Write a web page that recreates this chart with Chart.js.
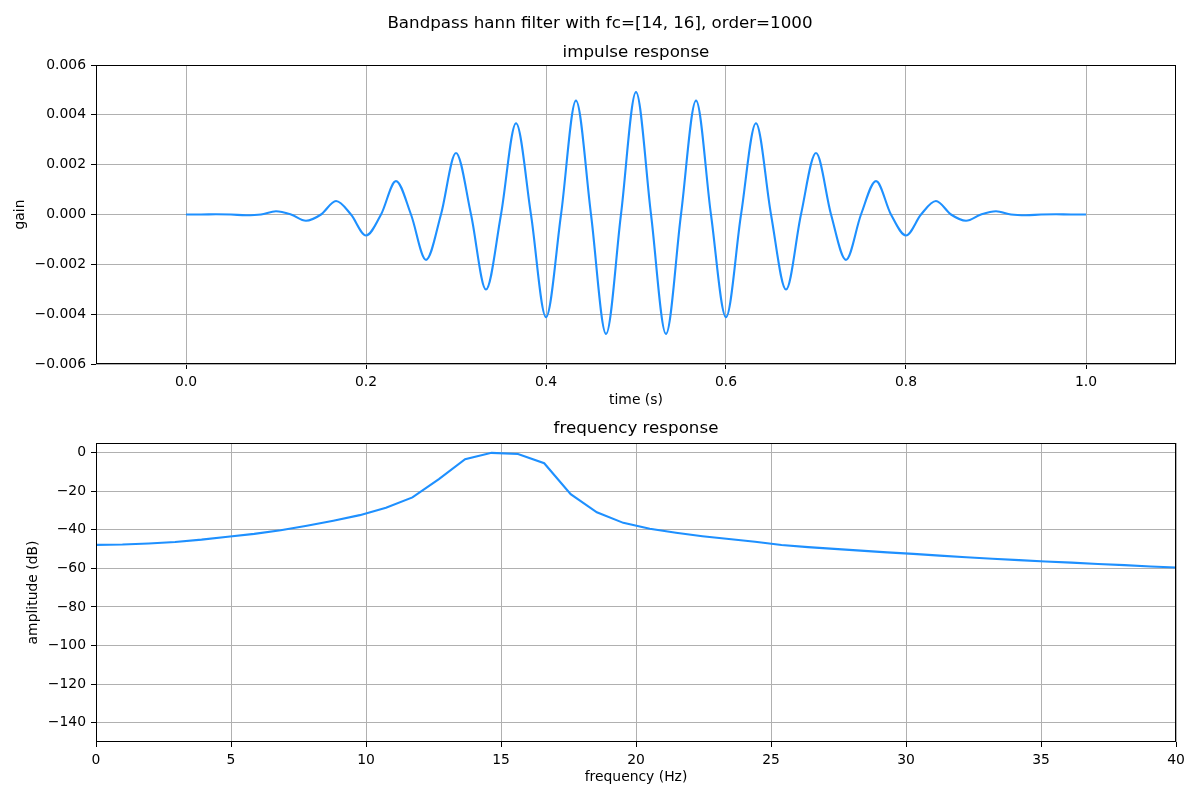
<!DOCTYPE html>
<html>
<head>
<meta charset="utf-8">
<title>Bandpass hann filter</title>
<script src="https://cdn.jsdelivr.net/npm/chart.js@4.4.0/dist/chart.umd.min.js"></script>
<style>
  html, body { margin: 0; padding: 0; background: #fff; }
  #suptitle {
    position: absolute; left: 0; top: 0; width: 1200px; height: 44px;
    line-height: 44px; text-align: center;
    font-family: "DejaVu Sans"; font-size: 16.7px; color: #000;
  }
  #top { position: absolute; left: 0; top: 0; width: 1200px; height: 420px; }
  #bottom { position: absolute; left: 0; top: 420px; width: 1200px; height: 380px; }
</style>
</head>
<body>
<div id="top"><canvas id="impulse"></canvas></div>
<div id="bottom"><canvas id="freq"></canvas></div>
<div id="suptitle">Bandpass hann filter with fc=[14, 16], order=1000</div>
<script>
var timeValues = [
  0, 0.0167, 0.0333, 0.05, 0.0667, 0.0833, 0.1, 0.1167, 0.1333, 0.15,
  0.1667, 0.1833, 0.2, 0.2167, 0.2333, 0.25, 0.2667, 0.2833, 0.3, 0.3167,
  0.3333, 0.35, 0.3667, 0.3833, 0.4, 0.4167, 0.4333, 0.45, 0.4667, 0.4833,
  0.5, 0.5167, 0.5333, 0.55, 0.5667, 0.5833, 0.6, 0.6167, 0.6333, 0.65,
  0.6667, 0.6833, 0.7, 0.7167, 0.7333, 0.75, 0.7667, 0.7833, 0.8, 0.8167,
  0.8333, 0.85, 0.8667, 0.8833, 0.9, 0.9167, 0.9333, 0.95, 0.9667, 0.9833, 1.0
]
var gainValues = [
  0, 0, 0.00001, 0, -0.00003, 0, 0.00013, 0, -0.00025, 0,
  0.00054, 0, -0.00084, 0, 0.00134, 0, -0.00182, 0, 0.00247, 0,
  -0.00301, 0, 0.00366, 0, -0.00412, 0, 0.00457, 0, -0.00479, 0,
  0.00491, 0, -0.00479, 0, 0.00457, 0, -0.00412, 0, 0.00366, 0,
  -0.00301, 0, 0.00247, 0, -0.00182, 0, 0.00134, 0, -0.00084, 0,
  0.00054, 0, -0.00025, 0, 0.00013, 0, -0.00003, 0, 0.00001, 0, 0
]
var timeTicks = [0, 0.2, 0.4, 0.6, 0.8, 1.0]
var gainTicks = [-0.006, -0.004, -0.002, 0, 0.002, 0.004, 0.006]

// frequency response
var freqValues = [
  0, 0.98, 1.95, 2.93, 3.91, 4.88, 5.86, 6.84, 7.81, 8.79,
  9.77, 10.74, 11.72, 12.70, 13.67, 14.65, 15.63, 16.60, 17.58, 18.55,
  19.53, 20.51, 21.48, 22.46, 23.44, 24.41, 25.39, 26.37, 27.34, 28.32,
  29.30, 30.27, 31.25, 32.23, 33.20, 34.18, 35.16, 36.13, 37.11, 38.09,
  39.06, 40.04
]
var ampValues = [
  -47.8, -47.6, -47.1, -46.3, -45.1, -43.6, -42.1, -40.2, -37.9, -35.3,
  -32.4, -28.6, -23.2, -13.7, -3.4, -0.1, -0.7, -5.5, -21.5, -30.9,
  -36.4, -39.5, -41.5, -43.3, -44.8, -46.2, -47.9, -49.0, -49.9, -50.8,
  -51.7, -52.5, -53.4, -54.2, -55.0, -55.7, -56.4, -57.0, -57.7, -58.3,
  -59.0, -59.6
]
var freqTicks = [0, 5, 10, 15, 20, 25, 30, 35, 40]
var ampTicks = [-140, -120, -100, -80, -60, -40, -20, 0]

var lineColour = "#1e90ff"
var gridColour = "#b0b0b0"

Chart.defaults.font.family = "DejaVu Sans"
Chart.defaults.font.size = 13.9
Chart.defaults.color = "#000"

function minus(text) {
  return text.replace("-", "\u2212")
}

function points(xs, ys) {
  return xs.map(function(x, i) { return { x: x, y: ys[i] } })
}

function fixedTicks(list) {
  return function(axis) {
    axis.ticks = list.map(function(v) { return { value: v } })
  }
}

// matplotlib style box round the plot area
var frame = {
  id: "frame",
  afterDraw: function(chart) {
    var a = chart.chartArea
    var ctx = chart.ctx
    ctx.save()
    ctx.strokeStyle = "#000"
    ctx.lineWidth = 1
    var l = Math.round(a.left) + 0.5, t = Math.round(a.top) + 0.5
    var r = Math.round(a.right) - 0.5, b = Math.round(a.bottom) - 0.5
    ctx.strokeRect(l, t, r - l, b - t)
    ctx.restore()
  }
}

function axisGrid() {
  return {
    color: gridColour,
    lineWidth: 1,
    tickColor: "#000",
    tickLength: 5,
    tickWidth: 1
  }
}

function plotTitle(text, top, bottom) {
  return {
    display: true,
    text: text,
    fullSize: false,
    font: { size: 16.7, weight: "normal", lineHeight: 1 },
    color: "#000",
    padding: { top: top, bottom: bottom }
  }
}

new Chart(document.getElementById("impulse"), {
  type: "line",
  data: {
    datasets: [{
      data: points(timeValues, gainValues),
      borderColor: lineColour,
      borderWidth: 2.1,
      pointRadius: 0,
      cubicInterpolationMode: "monotone"
    }]
  },
  options: {
    responsive: true,
    maintainAspectRatio: false,
    animation: false,
    layout: { padding: { left: 0, right: 24, top: 0, bottom: 0 } },
    scales: {
      x: {
        type: "linear",
        min: -0.1,
        max: 1.1,
        afterBuildTicks: fixedTicks(timeTicks),
        afterFit: function(s) { s.height = 56 },
        grid: axisGrid(),
        border: { display: false },
        ticks: {
          padding: 5,
          maxRotation: 0,
          callback: function(value) { return minus(value.toFixed(1)) }
        },
        title: {
          display: true,
          text: "time (s)",
          font: { size: 13.9, lineHeight: 1 },
          padding: { top: 0, bottom: 12.5 }
        }
      },
      y: {
        min: -0.006,
        max: 0.006,
        afterBuildTicks: fixedTicks(gainTicks),
        afterFit: function(s) { s.width = 96 },
        grid: axisGrid(),
        border: { display: false },
        ticks: {
          padding: 5,
          callback: function(value) {
            if (Math.abs(value) < 1e-9) return "0.000"
            return minus(value.toFixed(3))
          }
        },
        title: {
          display: true,
          text: "gain",
          font: { size: 13.9, lineHeight: 1 },
          padding: { top: 13.9, bottom: 0 }
        }
      }
    },
    plugins: {
      legend: { display: false },
      tooltip: { enabled: false },
      title: plotTitle("impulse response", 44.65, 3.65)
    }
  },
  plugins: [frame]
})

new Chart(document.getElementById("freq"), {
  type: "line",
  data: {
    datasets: [{
      data: points(freqValues, ampValues),
      borderColor: lineColour,
      borderWidth: 2.1,
      pointRadius: 0,
      tension: 0
    }]
  },
  options: {
    responsive: true,
    maintainAspectRatio: false,
    animation: false,
    layout: { padding: { left: 0, right: 24, top: 0, bottom: 0 } },
    scales: {
      x: {
        type: "linear",
        min: 0,
        max: 40,
        afterBuildTicks: fixedTicks(freqTicks),
        afterFit: function(s) { s.height = 58 },
        grid: axisGrid(),
        border: { display: false },
        ticks: {
          padding: 5,
          maxRotation: 0,
          callback: function(value) { return String(value) }
        },
        title: {
          display: true,
          text: "frequency (Hz)",
          font: { size: 13.9, lineHeight: 1 },
          padding: { top: 0, bottom: 16 }
        }
      },
      y: {
        min: -150,
        max: 5,
        afterBuildTicks: fixedTicks(ampTicks),
        afterFit: function(s) { s.width = 96 },
        grid: axisGrid(),
        border: { display: false },
        ticks: {
          padding: 5,
          callback: function(value) { return minus(String(value)) }
        },
        title: {
          display: true,
          text: "amplitude (dB)",
          font: { size: 13.9, lineHeight: 1 },
          padding: { top: 26.5, bottom: 0 }
        }
      }
    },
    plugins: {
      legend: { display: false },
      tooltip: { enabled: false },
      title: plotTitle("frequency response", 0.15, 6.15)
    }
  },
  plugins: [frame]
})
</script>
</body>
</html>
